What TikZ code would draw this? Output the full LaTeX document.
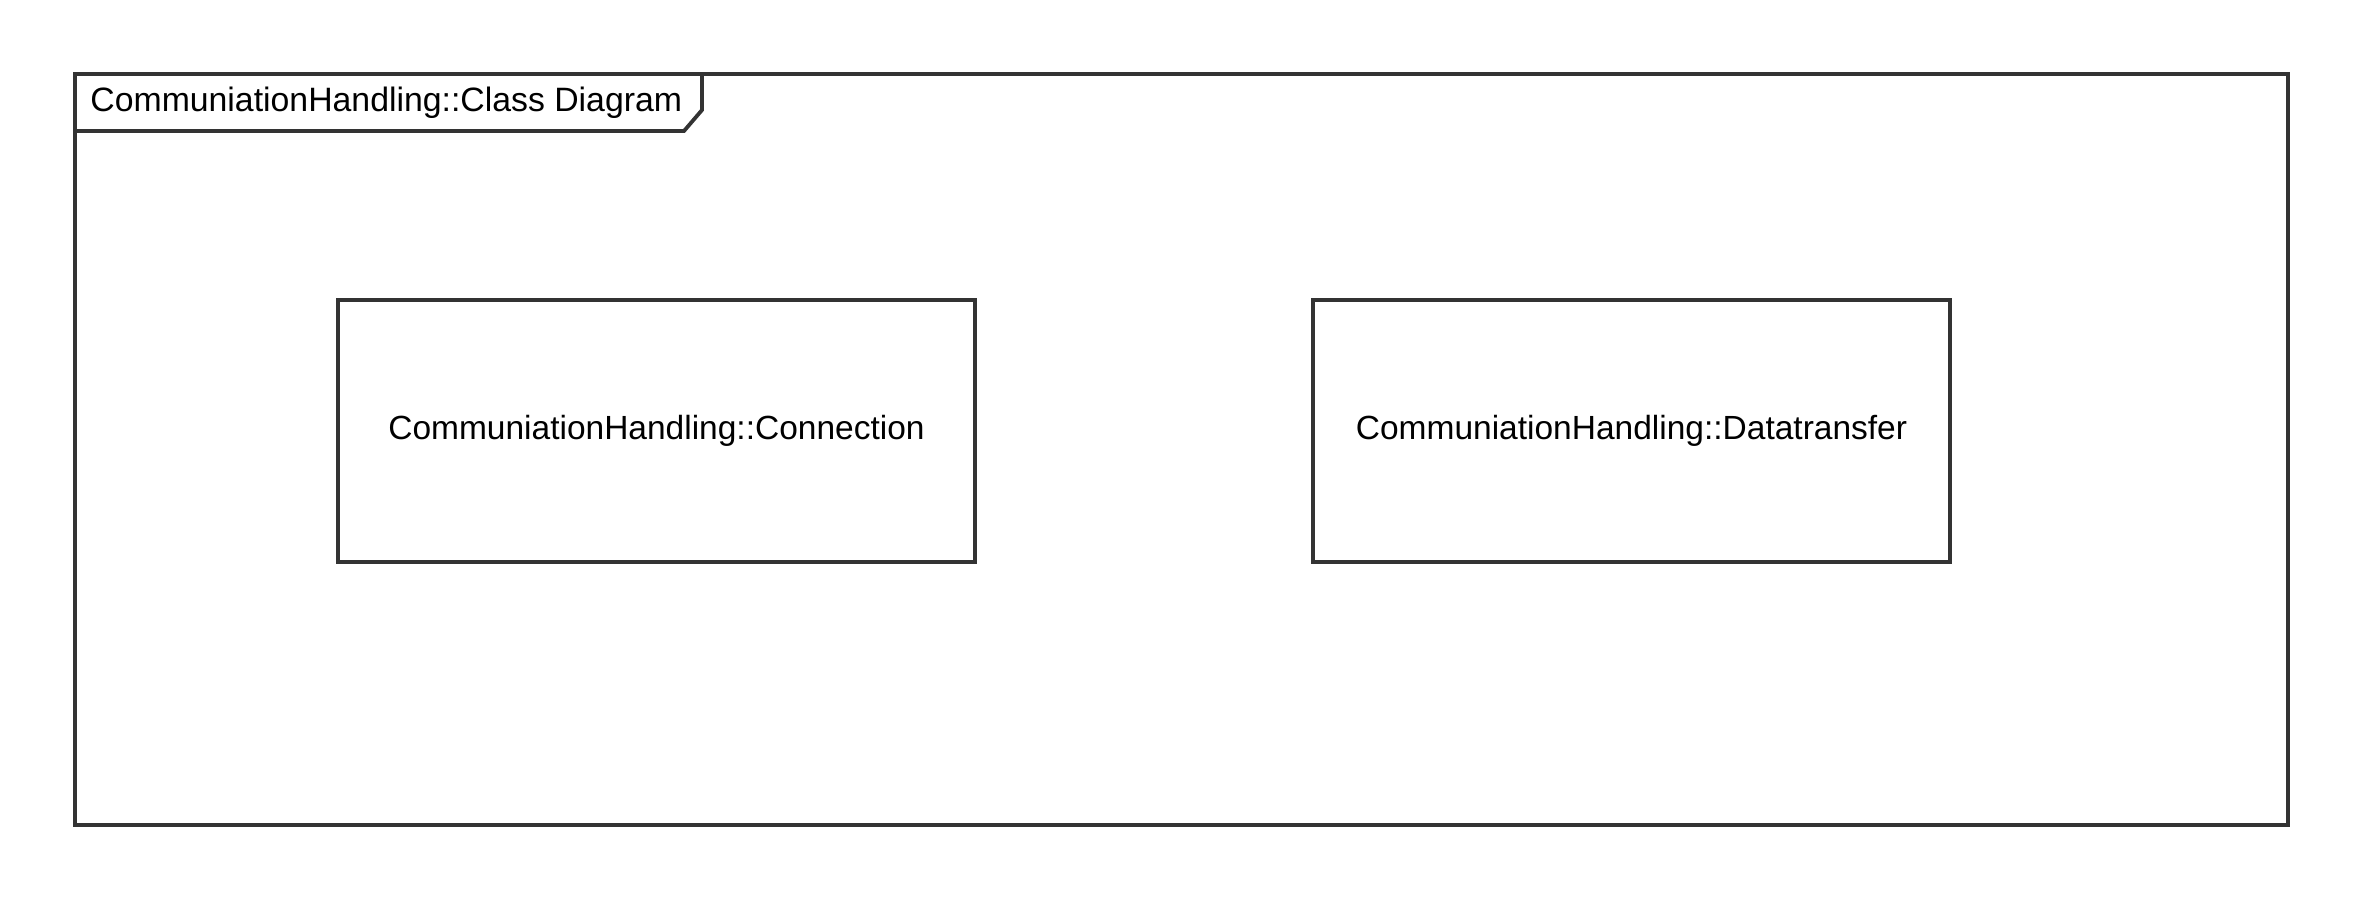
\documentclass[tikz,border=0pt]{standalone}
\usepackage{fontspec}
\setmainfont{Liberation Sans}
\definecolor{linegray}{HTML}{333333}
\tikzset{
  px/.style={x=0.5pt,y=-0.5pt},
  framebox/.style={draw=linegray,line width=1.9pt,rectangle,inner sep=0pt,outer sep=0pt},
  classbox/.style={draw=linegray,line width=1.9pt,rectangle,inner sep=0pt,outer sep=0pt,
    minimum width=318.5pt,minimum height=131pt,font=\fontsize{16.75pt}{20pt}\selectfont},
  tabline/.style={draw=linegray,line width=1.9pt,line join=miter},
  tabtext/.style={anchor=west,inner sep=0pt,font=\fontsize{16.9pt}{20pt}\selectfont}
}
\begin{document}
\begin{tikzpicture}[px]
\useasboundingbox (0,0) rectangle (2363,900);
\node[framebox,minimum width=1106.5pt,minimum height=375.5pt] (frame) at (1181.5,449.5) {};
\coordinate (tabA) at (702,74);
\coordinate (tabB) at (702,110);
\coordinate (tabC) at (684,131);
\coordinate (tabD) at (75,131);
\draw[tabline] (tabA) -- (tabB) -- (tabC) -- (tabD);
\node[tabtext] (title) at (90,103) {CommuniationHandling::Class Diagram};
\node[classbox] (conn) at (656.5,431) {\raisebox{1pt}{CommuniationHandling::Connection}};
\node[classbox] (data) at (1631.5,431) {\raisebox{1pt}{CommuniationHandling::Datatransfer}};
\end{tikzpicture}
\end{document}
